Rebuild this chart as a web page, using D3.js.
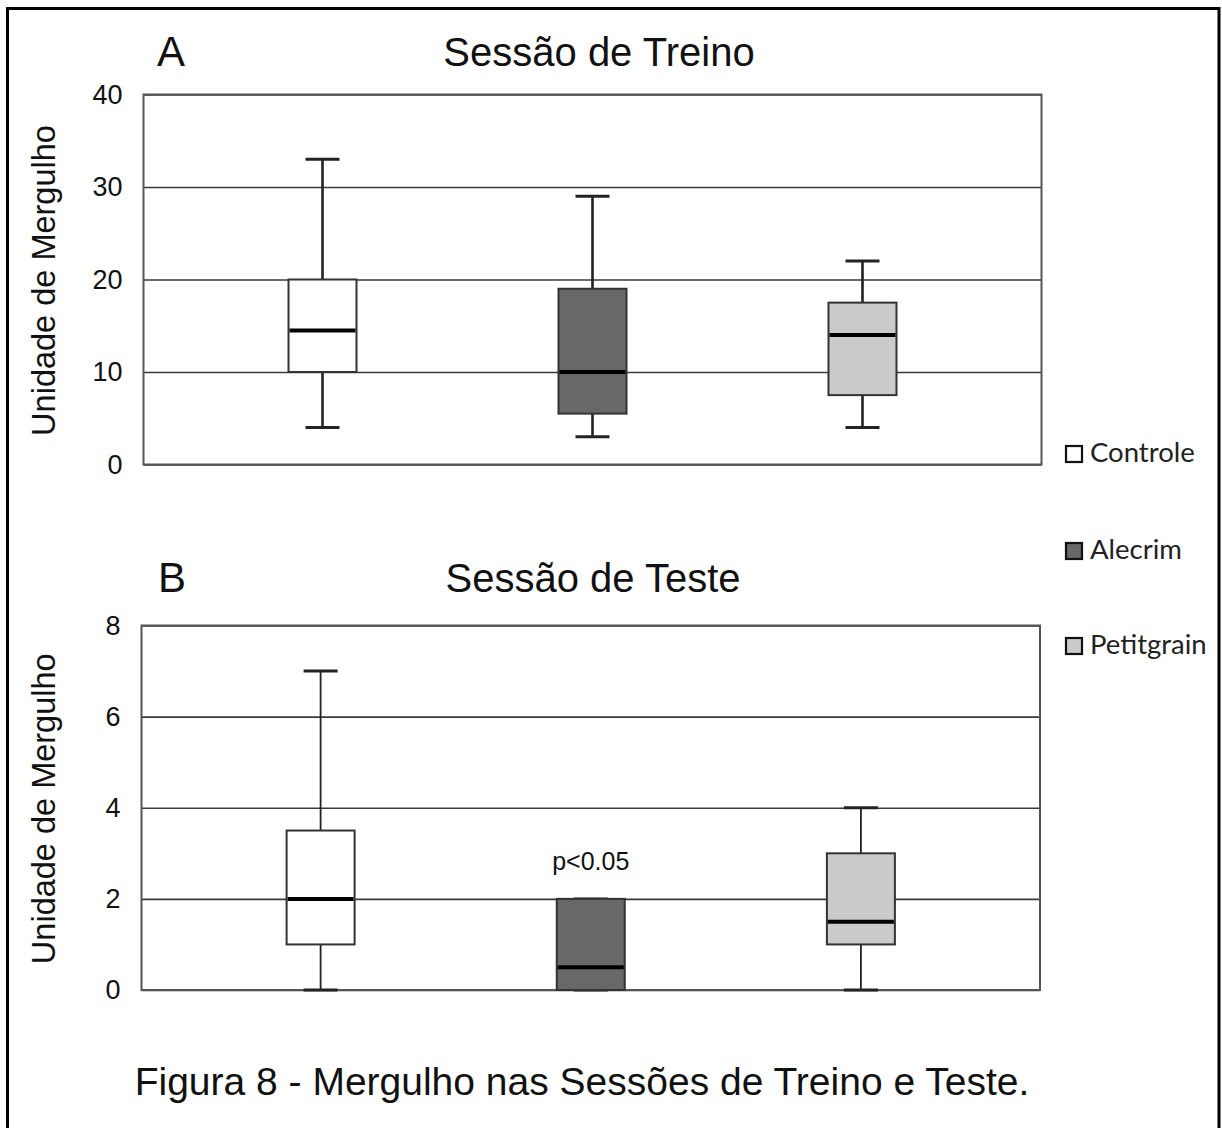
<!DOCTYPE html>
<html>
<head>
<meta charset="utf-8">
<script src="https://cdn.jsdelivr.net/npm/d3@7"></script>
<style>
  html, body { margin: 0; padding: 0; background: #fff; }
  svg { display: block; }
  text { font-family: "Liberation Sans", Arial, sans-serif; fill: #111; }
  .legend text { font-family: Lato, "Open Sans", sans-serif; fill: #222; }
</style>
</head>
<body>
<svg id="chart" width="1222" height="1128"></svg>
<script>
// Groups and their fills
const groups = ["Controle", "Alecrim", "Petitgrain"];
const fills = ["#ffffff", "#686868", "#cbcbcb"];

// Sessão de Treino: five-number summaries per group
const treinoMin    = [4, 3, 4];
const treinoQ1     = [10, 5.5, 7.5];
const treinoMedian = [14.5, 10, 14];
const treinoQ3     = [20, 19, 17.5];
const treinoMax    = [33, 29, 22];
const treinoTicks  = [0, 10, 20, 30, 40];

// Sessão de Teste: five-number summaries per group
const testeMin    = [0, 0, 0];
const testeQ1     = [1, 0, 1];
const testeMedian = [2, 0.5, 1.5];
const testeQ3     = [3.5, 2, 3];
const testeMax    = [7, 2, 4];
const testeTicks  = [0, 2, 4, 6, 8];

const svg = d3.select("#chart");

// page frame
svg.append("path")
  .attr("d", "M7.5,1140 V8.5 H1219 V1140")
  .attr("fill", "none").attr("stroke", "#000").attr("stroke-width", 3);

function panel(cfg) {
  const x = d3.scalePoint().domain(groups).range([cfg.left, cfg.right]).padding(0.663);
  const y = d3.scaleLinear().domain(cfg.domain).range([cfg.bottom, cfg.top]);
  const g = svg.append("g");
  const w = cfg.right - cfg.left;

  // horizontal gridlines
  g.append("g")
    .attr("transform", `translate(${cfg.left},0)`)
    .call(d3.axisLeft(y).tickValues(cfg.ticks).tickSize(-w).tickFormat(""))
    .call(a => a.select(".domain").remove())
    .call(a => a.selectAll("line").attr("stroke", "#3a3a3a").attr("stroke-width", 1.6));

  // tick labels
  g.append("g")
    .attr("transform", `translate(${cfg.left},0)`)
    .call(d3.axisLeft(y).tickValues(cfg.ticks).tickSize(0).tickPadding(21))
    .call(a => a.select(".domain").remove())
    .call(a => a.selectAll("text")
      .style("font-family", '"Liberation Sans", Arial, sans-serif')
      .style("font-size", "27px").attr("fill", "#222"));

  // plot border
  g.append("rect")
    .attr("x", cfg.left).attr("y", cfg.top)
    .attr("width", w).attr("height", cfg.bottom - cfg.top)
    .attr("fill", "none").attr("stroke", "#555").attr("stroke-width", 2);

  const bw = 68, cw = 34;
  const boxes = g.append("g").selectAll("g").data(groups).join("g");
  // whiskers
  boxes.append("line")
    .attr("x1", d => x(d)).attr("x2", d => x(d))
    .attr("y1", (d, i) => y(cfg.max[i])).attr("y2", (d, i) => y(cfg.q3[i]))
    .attr("stroke", "#222").attr("stroke-width", cfg.whisker);
  boxes.append("line")
    .attr("x1", d => x(d)).attr("x2", d => x(d))
    .attr("y1", (d, i) => y(cfg.min[i])).attr("y2", (d, i) => y(cfg.q1[i]))
    .attr("stroke", "#222").attr("stroke-width", cfg.whisker);
  // caps
  [cfg.max, cfg.min].forEach(arr => {
    boxes.append("line")
      .attr("x1", d => x(d) - cw / 2).attr("x2", d => x(d) + cw / 2)
      .attr("y1", (d, i) => y(arr[i])).attr("y2", (d, i) => y(arr[i]))
      .attr("stroke", "#222").attr("stroke-width", 3);
  });
  // boxes
  boxes.append("rect")
    .attr("x", d => x(d) - bw / 2).attr("width", bw)
    .attr("y", (d, i) => y(cfg.q3[i]))
    .attr("height", (d, i) => y(cfg.q1[i]) - y(cfg.q3[i]))
    .attr("fill", (d, i) => fills[i])
    .attr("stroke", "#333").attr("stroke-width", 2);
  // medians
  boxes.append("line")
    .attr("x1", d => x(d) - bw / 2 + 1).attr("x2", d => x(d) + bw / 2 - 1)
    .attr("y1", (d, i) => y(cfg.median[i])).attr("y2", (d, i) => y(cfg.median[i]))
    .attr("stroke", "#000").attr("stroke-width", 4);

  // panel letter and title
  svg.append("text").attr("x", cfg.letterX).attr("y", cfg.titleY)
    .style("font-size", "42px").text(cfg.letter);
  svg.append("text").attr("x", cfg.titleX).attr("y", cfg.titleY)
    .attr("text-anchor", "middle").style("font-size", "40px").text(cfg.title);

  // y axis label
  svg.append("text")
    .attr("transform", `translate(55,${(cfg.top + cfg.bottom) / 2 + 1}) rotate(-90)`)
    .attr("text-anchor", "middle").style("font-size", "32.5px")
    .text("Unidade de Mergulho");
  return { x, y };
}

panel({
  left: 143.5, right: 1041.5, top: 94.5, bottom: 464.5, domain: [0, 40],
  ticks: treinoTicks, min: treinoMin, q1: treinoQ1, median: treinoMedian, q3: treinoQ3, max: treinoMax,
  whisker: 2.6, letter: "A", letterX: 157, title: "Sessão de Treino", titleX: 599, titleY: 66
});

const teste = panel({
  left: 141.5, right: 1040, top: 625.5, bottom: 990, domain: [0, 8],
  ticks: testeTicks, min: testeMin, q1: testeQ1, median: testeMedian, q3: testeQ3, max: testeMax,
  whisker: 1.8, letter: "B", letterX: 158, title: "Sessão de Teste", titleX: 593, titleY: 592
});

// significance note above the Alecrim box
svg.append("text")
  .attr("x", teste.x("Alecrim")).attr("y", teste.y(testeQ3[1]) - 29)
  .attr("text-anchor", "middle").style("font-size", "25px").attr("fill", "#222")
  .text("p<0.05");

// legend
const legend = svg.append("g").attr("class", "legend");
const legendY = [462, 559, 654];
groups.forEach((name, i) => {
  legend.append("rect")
    .attr("x", 1066).attr("y", legendY[i] - 16).attr("width", 16).attr("height", 16)
    .attr("fill", fills[i]).attr("stroke", "#111").attr("stroke-width", 2.2);
  legend.append("text").attr("x", 1090).attr("y", legendY[i])
    .style("font-size", "27.5px").text(name);
});

// caption
svg.append("text").attr("x", 582).attr("y", 1095)
  .attr("text-anchor", "middle").style("font-size", "39px")
  .text("Figura 8 - Mergulho nas Sessões de Treino e Teste.");
</script>
</body>
</html>
